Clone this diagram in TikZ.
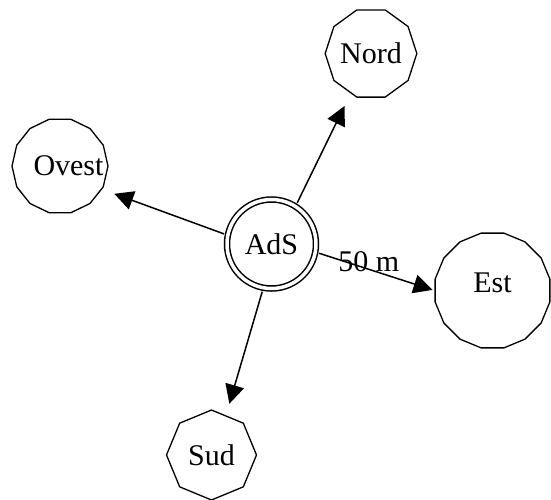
\documentclass[tikz,border=0pt]{standalone}
\usepackage{fontspec}
\setmainfont{Liberation Serif}
\usetikzlibrary{shapes.geometric, arrows.meta}
\tikzstyle{base} = [circle, draw=black, line width=1.5pt, double, double distance=3.5pt, minimum size=89pt, inner sep=0pt, outer sep=4pt, font=\fontsize{30}{36}\selectfont]
\tikzstyle{point} = [regular polygon, draw=black, line width=1.3pt, inner sep=0pt, font=\fontsize{30}{36}\selectfont]
\tikzstyle{way} = [line width=1.5pt, -{Triangle[length=19pt,width=19pt]}]

\begin{document}
\begin{tikzpicture}[x=1pt, y=-1pt]
	\useasboundingbox (0,0) rectangle (551,499);
	\node (ads) [base] at (271.5,244) {AdS};
	\node (nord) [point, regular polygon sides=10, minimum size=89pt] at (371,53.5) {Nord};
	\node (ovest) [point, regular polygon sides=14, minimum size=96pt] at (60,166) {\makebox[0pt]{\hspace*{17pt}Ovest}};
	\node (est) [point, regular polygon sides=16, minimum size=117pt, text depth=16pt] at (492.5,290.5) {Est};
	\node (sud) [point, regular polygon sides=8, shape border rotate=22.5, minimum size=90pt] at (211.5,455) {Sud};

	\draw[way, shorten >=14pt] (ads.58) -- (nord.243);
	\draw[way, shorten >=13pt] (ads.168) -- (ovest.-29);
	\draw[way, shorten >=2pt] (ads.-11) -- node[pos=0.43, yshift=8pt, font=\fontsize{30}{36}\selectfont] (dist) {50 m} (est.180);
	\draw[way, shorten >=12pt] (ads.-101) -- (sud.70);
\end{tikzpicture}
\end{document}
